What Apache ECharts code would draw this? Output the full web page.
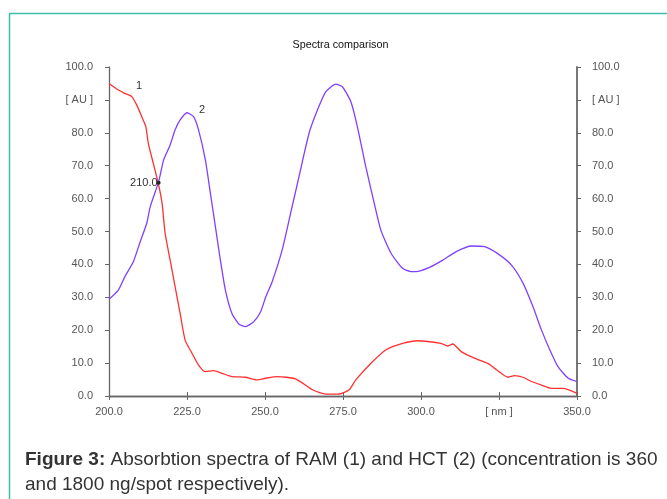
<!DOCTYPE html>
<html>
<head>
<meta charset="utf-8">
<script src="https://cdn.jsdelivr.net/npm/echarts@6/dist/echarts.min.js"></script>
<style>
html,body{margin:0;padding:0;background:#fff;}
#chart{width:667px;height:499px;}
</style>
</head>
<body>
<div id="chart"></div>
<script>
// Wavelength (nm) and absorbance (AU)
const ramX = [200,203,205,207.3,208.9,210.5,211.8,212.6,214.2,215.8,217,218,219.6,221.2,222.8,224.4,226.6,228.7,230.9,233.5,236.2,239.4,243.7,247.5,250.2,253.9,259.8,265.2,269.5,273.5,276.9,279.1,283.9,288.7,294.1,299,306.4,308.6,310.2,312.9,317.1,321.4,323.6,325.7,327.9,330,332.7,335.4,338.6,341.8,345.6,350];
const ramY = [95,93,92,91,88.4,84.9,81.9,76.8,70.7,64.6,58.6,49.4,41.3,33.2,25.1,17,13,9.4,7.4,7.7,6.9,5.9,5.7,4.9,5.4,5.9,5.2,1.9,0.6,0.6,1.8,4.9,9.9,14,16,16.8,16,15.2,15.8,13.5,11.5,9.9,8.4,6.9,5.7,6.2,5.7,4.4,3.3,2.3,2.3,0.8];
const hctX = [200,203,205.1,207.8,210,212.1,213.2,215.9,217.5,219.6,221.2,222.8,225,227.1,228.7,230.9,232.5,234.1,235.7,237.3,239.4,241.6,243.7,246.4,248.6,250.2,252.3,255.5,258.2,260.9,264.1,266.8,269.5,272.7,274.8,277.5,279.6,282.3,285,287.1,290.4,294.1,296.8,298.4,302.7,307,311.3,316.1,320.4,324.7,329,332.7,335.9,338.6,341.3,343.9,347.2,350];
const hctY = [29.4,32.2,36.3,40.8,46.9,52.5,57.5,65.1,71.7,76.3,80.9,83.9,86.1,84.9,80.9,71.7,61.6,51.5,41.3,32.2,25.1,21.9,21.1,22.6,25.6,30,34.7,44.4,55.5,66.7,79.8,86.9,92.5,94.8,94,89.5,81.9,69.7,58.6,50.5,43.4,38.8,37.8,37.8,39.1,41.3,43.9,45.6,45.4,43.2,39.8,34.3,27.1,20.1,14,8.9,5.4,4.4];

const xTicks = [200,225,250,275,300,325,350];
const xTickLabels = ['200.0','225.0','250.0','275.0','300.0','[ nm ]','350.0'];
const yTicks = [0,10,20,30,40,50,60,70,80,90,100];
const yTickLabels = ['0.0','10.0','20.0','30.0','40.0','50.0','60.0','70.0','80.0','[ AU ]','100.0'];

const seriesNames = ['1','2'];
const crossPoint = [215.9, 64.8];
const crossLabel = '210.0';
const titleText = 'Spectra comparison';
const captionBold = 'Figure 3:';
const captionLine1 = ' Absorbtion spectra of RAM (1) and HCT (2) (concentration is 360';
const captionLine2 = 'and 1800 ng/spot respectively).';

function zip(a, b){ return a.map((v,i)=>[v,b[i]]); }
function xFmt(v){ const i = xTicks.indexOf(v); return i>=0 ? xTickLabels[i] : ''; }
function yFmt(v){ const i = yTicks.indexOf(v); return i>=0 ? yTickLabels[i] : ''; }

const FONT = 'Liberation Sans, Arial, sans-serif';
const axisLine = {show:true, lineStyle:{color:'#666', width:1.3}};
const axisTick = {show:true, length:4, lineStyle:{color:'#666', width:1}};

const chart = echarts.init(document.getElementById('chart'), null, {renderer:'canvas'});
chart.setOption({
  animation:false,
  backgroundColor:'#fff',
  grid:{left:109, right:90, top:67, bottom:103, containLabel:false},
  xAxis:[
    {type:'value', position:'bottom', min:200, max:350, interval:25,
     axisLine:axisLine, axisTick:axisTick, splitLine:{show:false},
     axisLabel:{formatter:xFmt, margin:10, color:'#555', fontFamily:FONT, fontSize:11, showMinLabel:true, showMaxLabel:true}},
    {type:'value', position:'top', min:200, max:350, interval:25,
     axisLine:axisLine, axisTick:axisTick, splitLine:{show:false},
     axisLabel:{show:false}}
  ],
  yAxis:[
    {type:'value', position:'left', min:0, max:100, interval:10,
     axisLine:axisLine, axisTick:axisTick, splitLine:{show:false},
     axisLabel:{formatter:yFmt, margin:16, color:'#555', fontFamily:FONT, fontSize:11}},
    {type:'value', position:'right', min:0, max:100, interval:10,
     axisLine:{show:true, lineStyle:{color:'#777', width:2}}, axisTick:axisTick, splitLine:{show:false},
     axisLabel:{formatter:yFmt, margin:15, color:'#555', fontFamily:FONT, fontSize:11}}
  ],
  series:[
    {name:seriesNames[0], type:'line', xAxisIndex:0, yAxisIndex:0,
     data:zip(ramX, ramY), showSymbol:false, smooth:0.2,
     lineStyle:{color:'#ff3030', width:1.3}, itemStyle:{color:'#ff3030'},
     markPoint:{
       symbol:'circle', symbolSize:0, animation:false,
       data:[
         {coord:[209.6, 94.3], value:seriesNames[0],
          label:{show:true, formatter:seriesNames[0], color:'#333', fontFamily:FONT, fontSize:11, position:'inside'}},
         {coord:crossPoint, value:crossLabel, symbol:'circle', symbolSize:4, itemStyle:{color:'#222'},
          label:{show:true, formatter:crossLabel, color:'#333', fontFamily:FONT, fontSize:11, position:'left', distance:-1}}
       ]
     }},
    {name:seriesNames[1], type:'line', xAxisIndex:0, yAxisIndex:0,
     data:zip(hctX, hctY), showSymbol:false, smooth:0.2,
     lineStyle:{color:'#8040ff', width:1.3}, itemStyle:{color:'#8040ff'},
     markPoint:{
       symbol:'circle', symbolSize:0, animation:false,
       data:[
         {coord:[229.8, 87.0], value:seriesNames[1],
          label:{show:true, formatter:seriesNames[1], color:'#333', fontFamily:FONT, fontSize:11, position:'inside'}}
       ]
     }}
  ],
  graphic:[
    {type:'polyline', silent:true, shape:{points:[[9.5,520],[9.5,13.5],[700,13.5]]},
     style:{stroke:'#3dbfa6', lineWidth:1.5, fill:null}},
    {type:'text', x:340.5, y:45, silent:true,
     style:{text:titleText, fontFamily:FONT, fontSize:10.8, fill:'#111', align:'center', verticalAlign:'middle'}},
    {type:'text', left:25, top:450, silent:true,
     style:{text:'{b|'+captionBold+'}{n|'+captionLine1+'}',
       rich:{b:{fontFamily:FONT, fontSize:19, fontWeight:'bold', fill:'#333'},
             n:{fontFamily:FONT, fontSize:19, fill:'#333'}}}},
    {type:'text', left:25, top:475, silent:true,
     style:{text:captionLine2, fontFamily:FONT, fontSize:19, fill:'#333'}}
  ]
});
</script>
</body>
</html>
